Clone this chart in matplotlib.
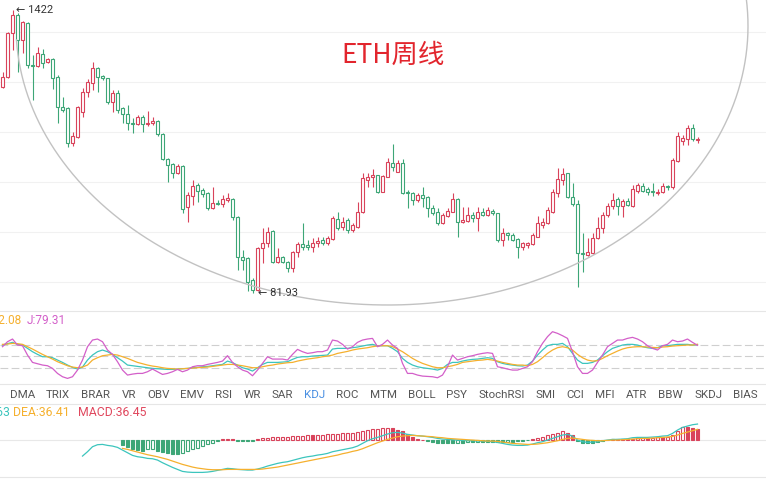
import numpy as np
import matplotlib
matplotlib.use("Agg")
import matplotlib.pyplot as plt
from matplotlib.lines import Line2D

plt.rcParams['font.family'] = ['Roboto', 'Noto Sans CJK SC', 'DejaVu Sans']

# ---------------- data (weekly ETH candles) ----------------
opens = [654, 723, 1127, 1352, 1051, 1247, 820, 809, 913, 842,
         868, 723, 534, 529, 372, 395, 509, 622, 681, 793,
         730, 716, 563, 616, 529, 498, 455, 451, 483, 451,
         455, 464, 407, 316, 301, 275, 295, 195, 218, 243,
         231, 224, 193, 203, 201, 209, 211, 176, 118, 117,
         93.4, 84.4, 129, 136, 153, 112, 118, 112, 105.4, 124,
         134, 133, 130, 135, 140, 135, 141, 173, 160, 171,
         154.6, 159.5, 185.5, 256, 264, 269, 227, 264, 304, 278,
         304, 227, 225, 209, 220, 216, 193, 185.5, 166, 178,
         185.5, 211, 168, 169, 180, 174.5, 185.5, 180, 187, 183.7,
         139.8, 150, 147, 141, 130, 133, 134, 144, 162.7, 166,
         185.5, 225, 256, 275, 216, 201, 122.6, 120, 122.6, 142.6,
         158, 180, 197, 211, 197, 207, 197, 229, 241, 234,
         229, 225, 227, 241, 239, 310, 380, 387, 434, 384]
highs = [761, 1139, 1422, 1380, 1272, 1260, 903, 979, 959, 876,
         876, 738, 591, 535, 416, 540, 647, 709, 842, 801,
         738, 716, 635, 635, 534, 545, 478, 493, 493, 514,
         483, 469, 411, 319, 304, 301, 298, 227, 256, 248,
         236, 227, 239, 209, 220, 225, 213, 178, 126, 118,
         95.3, 130, 158, 159.6, 154.6, 129, 119, 113, 125, 137,
         166, 140, 142.6, 144, 144, 145.5, 178, 185.5, 176, 174.5,
         166, 205, 275, 275, 286, 270, 269, 320, 368, 313,
         316, 231.5, 227, 225, 239, 218, 199, 193, 184, 193,
         225, 213, 195, 195, 185.5, 195, 193, 195, 191, 183.7,
         158, 151.6, 150, 142.6, 136.5, 136.5, 150, 178, 174.5, 195,
         234, 289, 289, 275, 248, 209, 150, 142.6, 150, 176,
         185.5, 203, 225, 215, 211, 213, 243, 248, 248, 239,
         248, 234, 248, 243, 320, 416, 403, 446, 451, 395]
lows = [647, 716, 950, 761, 921, 793, 574, 800, 793, 833,
        641, 455, 509, 357, 361, 391, 483, 591, 635, 622,
        702, 551, 509, 504, 455, 424, 412, 446, 416, 442,
        446, 399, 313, 251, 261, 272, 184, 168, 199, 205,
        216, 189, 191, 199, 195, 205, 171, 103, 103, 83.6,
        81.93, 83.6, 111, 130, 111, 111, 111, 101, 101, 118,
        126, 126, 124, 130, 133, 133, 140, 154.6, 154.6, 150,
        151.6, 158, 184, 239, 239, 225, 227, 264, 280, 278,
        223, 193, 199, 205, 195, 176, 180, 162.7, 164, 176,
        185.5, 144, 166, 168, 168, 153, 178, 178, 180, 137,
        131.7, 139.8, 138.4, 117, 126.4, 129, 133, 144, 158, 164,
        184, 216, 243, 214, 197, 87, 101, 119, 121, 141,
        150, 176, 191, 180, 176, 197, 195, 225, 227, 220,
        218, 220, 225, 231.5, 234, 307, 364, 364, 378, 372]
closes = [723, 1127, 1352, 1051, 1260, 817, 809, 921, 833, 868,
          716, 534, 519, 372, 399, 534, 622, 688, 793, 723,
          716, 563, 616, 519, 498, 455, 451, 483, 451, 455,
          464, 407, 316, 298, 275, 295, 191, 220, 241, 229,
          222, 193, 203, 201, 211, 213, 176, 118, 114, 91.5,
          84.4, 129, 136, 151.6, 112, 118, 112, 105.4, 124, 134,
          130, 130, 135, 138.4, 135, 142.6, 174.5, 158, 168, 154.6,
          162.7, 185.5, 261, 264, 269, 227, 266, 307, 292, 304,
          225, 225, 209, 220, 213, 193, 184, 166, 180, 187,
          211, 168, 171, 180, 174.5, 185.5, 180, 189, 183.7, 139.8,
          150, 147, 139.8, 130, 135, 135, 147, 166, 168, 189,
          227, 259, 272, 216, 201, 122.6, 121, 124, 142.6, 158,
          180, 197, 209, 197, 207, 199, 234, 243, 229, 227,
          227, 227, 241, 239, 313, 400, 393, 434, 387, 387]

# KDJ
kdj_k = [80, 83.5, 87.1, 81.8, 80, 71.2, 62.4, 55.3, 49.1, 49.1,
         46.5, 40.3, 34.1, 27.1, 20.9, 16.5, 21.8, 40.3, 53.5, 62.4,
         66.8, 62.4, 55.3, 46.5, 37.6, 27.1, 25.3, 23.5, 21.8, 20.0,
         18.2, 17.4, 16.5, 15.6, 15.6, 16.5, 17.4, 18.2, 20.0, 20.9,
         22.6, 23.5, 25.3, 27.1, 28.8, 37.6, 33.2, 27.1, 20.0, 16.5,
         11.2, 20.0, 28.8, 34.1, 34.1, 34.1, 35.0, 35.9, 42.1, 47.4,
         49.1, 49.1, 50.9, 51.8, 52.6, 53.5, 69.4, 71.2, 71.2, 71.2,
         72.9, 74.7, 77.4, 80, 81.8, 78.2, 78.2, 78.2, 71.2, 62.4,
         44.7, 34.1, 27.1, 22.6, 20.0, 18.2, 16.5, 13.8, 18.2, 28.8,
         34.1, 34.1, 37.6, 40.3, 42.1, 42.9, 44.7, 46.5, 44.7, 35.9,
         31.5, 28.8, 27.1, 25.3, 24.4, 27.1, 37.6, 53.5, 66.8, 78.2,
         81.8, 81.8, 84.4, 75.6, 57.9, 40.3, 31.5, 31.5, 34.1, 40.3,
         51.8, 62.4, 71.2, 75.6, 80, 81.8, 81.8, 80, 75.6, 72.9,
         71.2, 72.9, 78.2, 78.2, 80, 81.8, 81.8, 81.8, 80, 81.16]
kdj_d = [81.8, 82.6, 84.4, 83.5, 81.8, 75.6, 69.4, 62.4, 55.3, 49.1,
         42.9, 35.9, 30.6, 25.3, 21.8, 20.0, 21.8, 27.1, 40.3, 46.5,
         51.8, 53.5, 55.3, 53.5, 49.1, 44.7, 39.4, 34.1, 30.6, 27.1,
         24.4, 22.6, 20.0, 18.2, 17.4, 16.5, 17.4, 18.2, 19.1, 20.0,
         20.9, 21.8, 23.5, 25.3, 27.1, 28.8, 28.8, 27.1, 25.3, 22.6,
         20.0, 20.0, 22.6, 25.3, 27.1, 29.7, 31.5, 33.2, 34.1, 37.6,
         40.3, 42.9, 44.7, 46.5, 49.1, 50.9, 53.5, 57.9, 60.6, 63.2,
         66.8, 69.4, 71.2, 72.9, 75.6, 77.4, 78.2, 78.2, 75.6, 69.4,
         62.4, 53.5, 44.7, 37.6, 31.5, 27.1, 22.6, 20.0, 20.0, 22.6,
         25.3, 28.8, 34.1, 35.9, 37.6, 39.4, 40.3, 42.1, 40.3, 37.6,
         34.1, 31.5, 28.8, 27.1, 27.1, 25.3, 28.8, 35.9, 46.5, 57.9,
         66.8, 73.0, 75.6, 72.9, 66.8, 55.3, 46.5, 40.3, 37.6, 38.5,
         44.7, 51.8, 57.9, 64.1, 69.4, 72.9, 74.7, 75.6, 75.6, 74.7,
         73.8, 72.9, 74.7, 75.6, 77.4, 78.2, 79.1, 80, 80, 82.08]
kdj_j = [75.6, 88.8, 95.9, 80, 78.2, 53.5, 34.1, 30.6, 27.1, 25.3,
         18.2, 5.0, -3.8, -8.2, -3.8, 13.8, 40.3, 75.6, 93.2, 95.9,
         88.8, 66.8, 55.3, 35.9, 13.8, 0.6, 3.2, 5.0, 5.0, 9.4,
         16.5, 9.4, 2.3, 5.0, 9.4, 15.6, 9.4, 13.8, 22.6, 25.3,
         25.3, 28.8, 31.5, 34.1, 37.6, 51.8, 34.1, 22.6, 13.8, 9.4,
         -1.2, 13.8, 31.5, 49.1, 42.9, 42.9, 42.9, 40.3, 55.3, 68.5,
         62.4, 57.9, 59.7, 62.4, 62.4, 66.8, 93.2, 90.6, 81.8, 69.4,
         75.6, 87.1, 93.2, 95.9, 97.6, 75.6, 81.8, 93.2, 80, 71.2,
         31.5, 5.0, 5.0, 0.6, -2.1, -2.9, -3.8, -6.5, 0.6, 22.6,
         53.5, 40.3, 44.7, 49.1, 51.8, 55.3, 57.9, 59.7, 57.9, 22.6,
         20.0, 16.5, 13.8, 13.8, 18.2, 22.6, 35.9, 62.4, 84.4, 102.1,
         115.3, 110.9, 104.7, 97.6, 62.4, 22.6, 5.0, 5.0, 13.8, 34.1,
         53.5, 75.6, 84.4, 93.2, 93.2, 97.6, 100.3, 95.9, 88.8, 78.2,
         71.2, 66.8, 78.2, 81.8, 93.2, 88.8, 90.6, 95.9, 87.1, 79.31]

# MACD; DIF starts at week 16, DEA/MACD at week 24
dif_start, dea_start = 16, 24
macd_dif = [-54.6, -39.8, -22.7, -15.9, -14.8, -18.2, -20.5, -25.0, -34.1, -43.2,
            -52.3, -56.9, -59.1, -62.5, -63.7, -68.2, -77.3, -85.3, -93.2, -100.1,
            -106.9, -109.2, -110.3, -110.3, -110.3, -109.2, -106.9, -103.5, -100.1, -96.6,
            -97.8, -100.1, -101.2, -102.3, -102.3, -98.9, -94.4, -88.7, -84.1, -79.6,
            -76.2, -73.9, -69.4, -64.8, -60.3, -56.9, -54.6, -51.2, -48.9, -45.5,
            -39.8, -36.4, -33.0, -29.6, -26.2, -20.5, -11.4, -2.3, 4.5, 9.1,
            14.8, 20.5, 25.0, 26.2, 23.9, 19.3, 17.1, 14.8, 13.6, 11.4,
            9.1, 5.7, 3.4, 2.3, 1.1, 0.0, -1.1, -2.3, -2.3, -3.4,
            -3.4, -4.5, -5.7, -8.0, -11.4, -14.8, -17.1, -18.2, -18.2, -17.1,
            -13.6, -9.1, -5.7, 0.0, 5.7, 11.4, 17.1, 19.3, 13.6, 0.0,
            -5.7, -8.0, -6.8, -5.7, -2.3, 0.0, 2.3, 2.3, 3.4, 4.5,
            8.0, 9.1, 9.1, 9.1, 10.2, 11.4, 13.6, 14.8, 22.7, 34.1,
            43.2, 47.8, 52.3, 54.63]
macd_dea = [-28.4, -31.8, -36.4, -40.9, -45.5, -50.0, -53.4, -56.9, -61.4, -65.9,
            -71.6, -77.3, -83.0, -87.5, -92.1, -95.5, -97.8, -100.1, -101.2, -101.2,
            -101.2, -100.1, -100.1, -100.1, -100.1, -100.1, -100.1, -100.1, -98.9, -96.6,
            -94.4, -92.1, -88.7, -85.3, -81.9, -78.5, -75.0, -71.6, -68.2, -64.8,
            -61.4, -58.0, -54.6, -51.2, -46.6, -43.2, -38.7, -35.2, -29.6, -22.7,
            -15.9, -9.1, -3.4, 2.3, 6.8, 11.4, 13.6, 14.8, 15.9, 14.8,
            13.6, 12.5, 11.4, 9.1, 8.0, 5.7, 4.5, 3.4, 2.3, 1.1,
            0.0, -1.1, -2.3, -3.4, -3.4, -4.5, -6.8, -9.1, -11.4, -12.5,
            -13.6, -14.8, -14.8, -13.6, -11.4, -9.1, -5.7, -2.3, 2.3, 5.7,
            6.8, 4.5, 2.3, 0.0, -1.1, -2.3, -2.3, -1.1, 0.0, 0.0,
            1.1, 2.3, 3.4, 4.5, 5.7, 5.7, 6.8, 8.0, 9.1, 10.2,
            12.5, 17.1, 22.7, 27.3, 31.8, 36.41]
macd_hist = [-18, -22, -30, -34, -36, -32, -30, -36, -42, -45,
             -47, -48, -44, -38, -32, -26, -20, -14, -9, -4,
             3, 4, 3, -2, -3, -3, -2, 3, 6, 8,
             9, 10, 11, 12, 13, 14, 15, 16, 16, 17,
             18, 19, 21, 22, 23, 24, 25, 27, 30, 34,
             37, 38, 40, 41, 40, 36, 30, 22, 12, 5,
             0, -4, -7, -9, -10, -10, -10, -9, -9, -8,
             -8, -7, -7, -6, -6, -6, -6, -5, -5, -4,
             -3, -1, 2, 8, 12, 16, 20, 25, 31, 25,
             18, -4, -9, -11, -11, -8, -3, 0, 3, 3,
             4, 4, 5, 6, 7, 7, 8, 9, 9, 10,
             18, 30, 44, 43, 40, 36.45]

tabs = ["DMA", "TRIX", "BRAR", "VR", "OBV", "EMV", "RSI", "WR", "SAR", "KDJ", "ROC",
        "MTM", "BOLL", "PSY", "StochRSI", "SMI", "CCI", "MFI", "ATR", "BBW", "SKDJ", "BIAS"]
active_tab = "KDJ"
title = "ETH周线"
max_label, min_label = "1422", "81.93"

# ---------------- style ----------------
RED, GREEN = '#d9435b', '#3da677'
C_K, C_D, C_J = '#3cc5bd', '#f5b02e', '#d35fc9'
GRID = '#f1f1f1'
SEP = '#e6e6e6'

W, H = 766, 483
fig = plt.figure(figsize=(W / 100, H / 100), dpi=100)


def px_rect(x0, y0, x1, y1):
    return [x0 / W, 1 - y1 / H, (x1 - x0) / W, (y1 - y0) / H]


n = len(closes)
x = np.arange(n)
XL = (-0.5, 152.7)

o = np.array(opens, float); c = np.array(closes, float)
hi = np.array(highs, float); lo = np.array(lows, float)
cols = [RED if cc >= oo else GREEN for oo, cc in zip(o, c)]

# ---------------- main candle chart ----------------
MAIN_BOTTOM = 311
ax = fig.add_axes(px_rect(0, 0, W, MAIN_BOTTOM))
ax.set_yscale('log')
ax.set_xlim(*XL)
ax.set_ylim(68.3, 1573)
for g in [1139, 688, 415.6, 251, 151.6, 91.6]:
    ax.axhline(g, color=GRID, lw=0.8, zorder=0)
ax.vlines(x, lo, hi, colors=cols, lw=0.8, zorder=2)
ax.bar(x, c - o, bottom=o, width=0.62, facecolor='white', edgecolor=cols,
       linewidth=0.8, zorder=3)

# arc drawing (annotation)
cx, cy, b = 388, 26, 279
t = np.linspace(np.pi - 0.05, -0.093, 500)
a = np.where(np.cos(t) < 0, 372, 360)
ax.plot((cx + a * np.cos(t)) / W, 1 - (cy + b * np.sin(t)) / MAIN_BOTTOM,
        transform=ax.transAxes, color='#c2c2c2', lw=1.0, zorder=4)

imax = int(np.argmax(hi)); imin = int(np.argmin(lo))
ax.annotate("← " + max_label, xy=(imax, hi[imax]), xytext=(3.5, 0),
            textcoords='offset pixels', ha='left', va='center', fontsize=8,
            color='#333333', family=['Roboto', 'DejaVu Sans'], zorder=5)
ax.annotate("← " + min_label, xy=(imin, lo[imin]), xytext=(5, 0),
            textcoords='offset pixels', ha='left', va='center', fontsize=8,
            color='#333333', family=['Roboto', 'DejaVu Sans'], zorder=5)
ax.axis('off')

fig.text(393 / W, 1 - 55 / H, title, fontsize=19, color='#e2252d', ha='center',
         va='center', family=['Noto Sans CJK SC', 'DejaVu Sans'])

# ---------------- KDJ ----------------
ak = fig.add_axes(px_rect(0, MAIN_BOTTOM, W, 384))
ak.set_xlim(*XL)
ak.set_ylim(-23, 170)
for lv in (80, 50, 20):
    ak.axhline(lv, color='#cfcfcf', lw=0.8, ls=(0, (7, 3)), zorder=0)
ak.plot(x, kdj_k, color=C_K, lw=0.9)
ak.plot(x, kdj_d, color=C_D, lw=0.9)
ak.plot(x, kdj_j, color=C_J, lw=0.9)
ak.axis('off')
fig.text(21 / W, 1 - 320 / H, "D:%.2f" % kdj_d[-1], color=C_D, fontsize=8.5,
         ha='right', va='center')
fig.text(27 / W, 1 - 320 / H, "J:%.2f" % kdj_j[-1], color=C_J, fontsize=8.5,
         ha='left', va='center')

# ---------------- tabs ----------------
fig.canvas.draw()
renderer = fig.canvas.get_renderer()
xpos = 10.0
for lab in tabs:
    tt = fig.text(xpos / W, 1 - 395 / H, lab, fontsize=8.25, ha='left', va='center',
                  color='#4a90e2' if lab == active_tab else '#555555')
    bb = tt.get_window_extent(renderer=renderer)
    xpos += bb.width + 11

# ---------------- MACD ----------------
am = fig.add_axes(px_rect(0, 404, W, 477))
am.set_xlim(*XL)
am.set_ylim(-126, 123)
am.axhline(0, color='#e8e8e8', lw=0.8, zorder=0)
xd = np.arange(dif_start, dif_start + len(macd_dif))
xe = np.arange(dea_start, dea_start + len(macd_dea))
hist = np.array(macd_hist, float)
prev = np.concatenate([[np.inf], hist[:-1]])
hcol = [RED if v >= 0 else GREEN for v in hist]
hollow = hist > prev
face = ['white' if ho else cc for ho, cc in zip(hollow, hcol)]
am.bar(xe, hist, width=0.62, facecolor=face, edgecolor=hcol, linewidth=0.8, zorder=2)
am.plot(xd, macd_dif, color=C_K, lw=0.9, zorder=3)
am.plot(xe, macd_dea, color=C_D, lw=0.9, zorder=3)
am.axis('off')
fig.text(10 / W, 1 - 413 / H, "DIF:%.2f" % macd_dif[-1], color=C_K, fontsize=8.8,
         ha='right', va='center')
fig.text(13 / W, 1 - 413 / H, "DEA:%.2f" % macd_dea[-1], color=C_D, fontsize=8.8,
         ha='left', va='center')
fig.text(78 / W, 1 - 413 / H, "MACD:%.2f" % macd_hist[-1], color='#e0485e', fontsize=8.8,
         ha='left', va='center')

for yy in (MAIN_BOTTOM, 384, 404, 477):
    fig.add_artist(Line2D([0, 1], [1 - yy / H] * 2, color=SEP, lw=0.8))

fig.savefig('out.png', dpi=100, facecolor='white')
